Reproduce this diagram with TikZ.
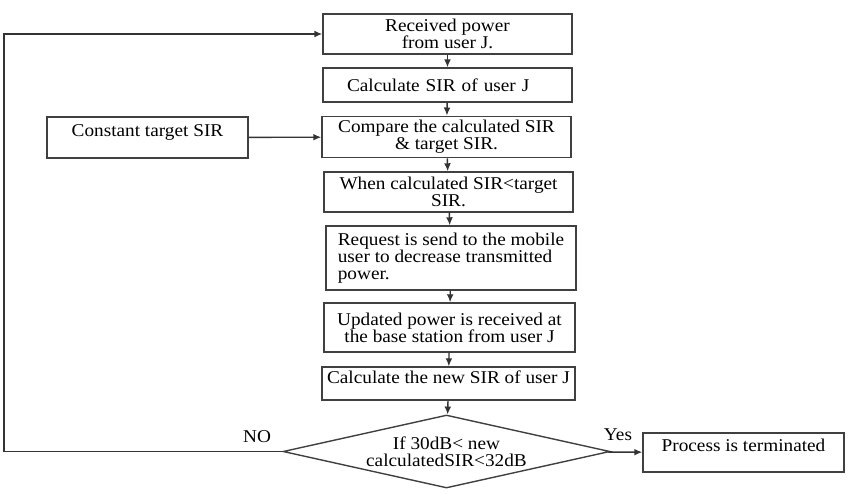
\documentclass[tikz,border=0pt]{standalone}
\usepackage{fontspec}
\setmainfont{Liberation Serif}[FakeStretch=1.07]
\usetikzlibrary{arrows.meta,shapes.geometric}
\begin{document}
\begin{tikzpicture}[x=0.5pt,y=-0.5pt,font=\fontsize{9}{8.6}\selectfont,
  >={Latex[length=4pt,width=3.4pt]},
  procbox/.style={draw=black!75, line width=0.7pt, align=center, inner sep=2pt},
  flow/.style={->, draw=black!80, line width=0.7pt}]
  \useasboundingbox (0,0) rectangle (861,494);
  % main column
  \node[procbox, minimum width=124.5pt, minimum height=20pt] (recv) at (447.5,34) {Received power\\from user J.};
  \node[procbox, minimum width=124.5pt, minimum height=17pt, align=left, text width=100.5pt, inner xsep=12pt] (calc) at (447.5,85) {Calculate SIR of user J};
  \node[procbox, minimum width=124.5pt, minimum height=20pt] (comp) at (446.5,137) {Compare the calculated SIR\\\& target SIR.};
  \node[procbox, minimum width=124.5pt, minimum height=20pt] (when) at (448.5,192) {When calculated SIR<target\\SIR.};
  \node[procbox, minimum width=125pt, minimum height=32pt, align=left] (req) at (451,258) {Request is send to the mobile\\user to decrease transmitted\\power.};
  \node[procbox, minimum width=125.5pt, minimum height=24.5pt] (upd) at (449.5,327.5) {Updated power is received at\\the base station from user J};
  \node[procbox, minimum width=126.5pt, minimum height=16.5pt, text height=6pt, text depth=6.5pt] (newsir) at (448.5,383.5) {Calculate the new SIR of user J};
  \node[procbox, shape=diamond, aspect=4.5, inner sep=0pt, minimum width=163.5pt, minimum height=36.5pt] (check) at (446.5,451.5) {If 30dB< new\\calculatedSIR<32dB};
  % side boxes
  \node[procbox, minimum width=100.5pt, minimum height=20.5pt, text height=6pt, text depth=7.5pt] (target) at (147.5,137.5) {Constant target SIR};
  \node[procbox, minimum width=100.5pt, minimum height=19.5pt, text height=6pt, text depth=7pt] (stop) at (743.5,452.5) {Process is terminated};
  \node (nolbl) at (257,437) {NO};
  \node (yeslbl) at (618,435) {Yes};
  \coordinate (loopc) at (4,451.5);
  % connectors
  \draw[flow] (recv) -- (calc);
  \draw[flow] (calc) -- (comp);
  \draw[flow] (comp) -- (when);
  \draw[flow] (when) -- (req);
  \draw[flow] (req) -- (upd);
  \draw[flow] (upd) -- (newsir);
  \draw[flow] (newsir) -- (check);
  \draw[flow] (target) -- (comp);
  \draw[flow] (check) -- (stop);
  \draw[flow] (check.west) -- (loopc) |- (recv.west);
\end{tikzpicture}
\end{document}
